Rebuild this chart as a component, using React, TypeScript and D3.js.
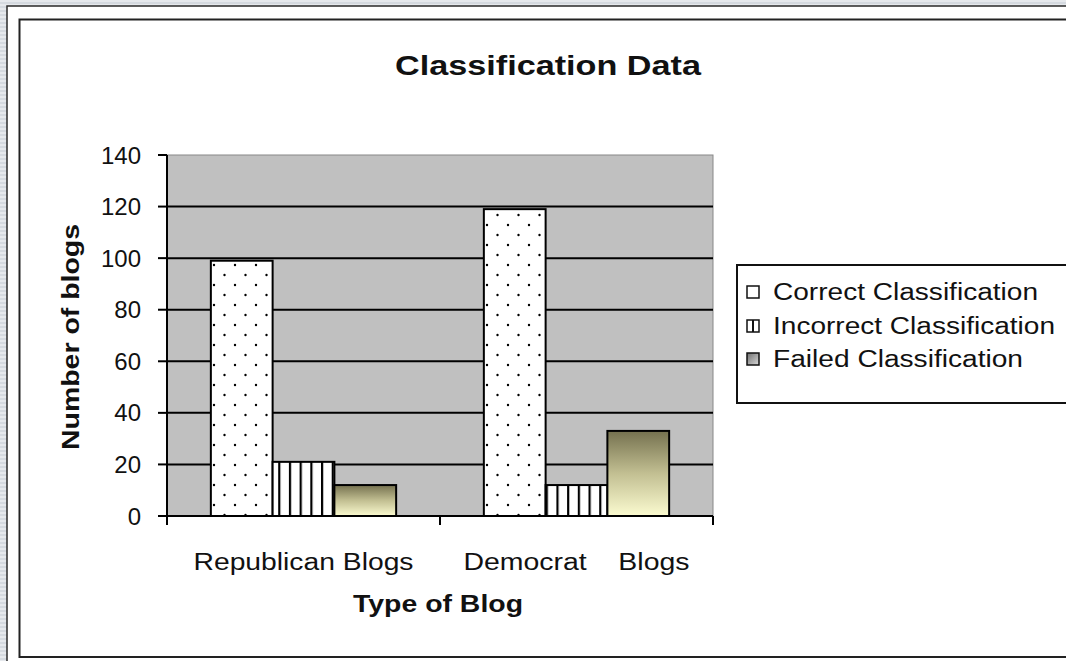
import React from "react";
import * as d3 from "d3";

const categories = ["Republican Blogs", "Democrat Blogs"];
const categoryLabels = ["Republican Blogs", "Democrat\u00a0\u00a0\u00a0\u00a0Blogs"];
const seriesNames = ["Correct Classification", "Incorrect Classification", "Failed Classification"];
const correctValues = [99, 119];
const incorrectValues = [21, 12];
const failedValues = [12, 33];
const yTicks = [0, 20, 40, 60, 80, 100, 120, 140];
const chartTitle = "Classification Data";
const xTitle = "Type of Blog";
const yTitle = "Number of blogs";

const W = 1066;
const H = 661;
const FONT = "'Liberation Sans', Arial, sans-serif";

export default function App() {
  const plotL = 167, plotR = 713, plotT = 155, plotB = 516;
  const values = [correctValues, incorrectValues, failedValues];
  const fills = ["url(#dots)", "url(#stripes)", "url(#grad)"];

  const x0 = d3.scaleBand<string>().domain(categories).range([plotL, plotR]).padding(0);
  const x1 = d3.scaleBand<string>().domain(seriesNames).range([0, x0.bandwidth()]).paddingInner(0).paddingOuter(0.71);
  const y = d3.scaleLinear().domain([0, 140]).range([plotB, plotT]);

  const xTickPositions = [plotL, ...categories.map((c) => (x0(c) as number) + x0.bandwidth())];

  const legendX = 737, legendY = 265, legendW = 330, legendH = 138;
  const legendRowY = [292, 326, 359];

  return (
    <svg width={W} height={H} style={{ position: "absolute", left: 0, top: 0, display: "block" }} xmlns="http://www.w3.org/2000/svg">
      <defs>
        <pattern id="bgstripes" patternUnits="userSpaceOnUse" width="8" height="4">
          <rect width="8" height="4" fill="#e6e9ed" />
          <rect y="2" width="8" height="2" fill="#d5dae0" />
        </pattern>
        <pattern id="dots" patternUnits="userSpaceOnUse" width="21" height="20">
          <rect width="21" height="20" fill="#ffffff" />
          <circle cx="4" cy="5" r="1.2" fill="#000" />
          <circle cx="14.5" cy="15" r="1.2" fill="#000" />
        </pattern>
        <pattern id="stripes" patternUnits="userSpaceOnUse" width="10.7" height="10">
          <rect width="10.7" height="10" fill="#ffffff" />
          <rect x="0" width="2.2" height="10" fill="#000" />
        </pattern>
        <linearGradient id="grad" x1="0" y1="0" x2="0" y2="1">
          <stop offset="0" stopColor="#75714f" />
          <stop offset="0.5" stopColor="#c2bf92" />
          <stop offset="1" stopColor="#fbfbd0" />
        </linearGradient>
        <linearGradient id="gradLeg" x1="0" y1="0" x2="1" y2="1">
          <stop offset="0" stopColor="#6f6f6f" />
          <stop offset="1" stopColor="#d8d8d8" />
        </linearGradient>
      </defs>

      {/* page background */}
      <rect x={0} y={0} width={W} height={H} fill="url(#bgstripes)" />
      {/* outer frame */}
      <rect x={7} y={6} width={W + 20} height={H + 20} fill="#ffffff" stroke="#2a2a2a" strokeWidth={1.5} />
      {/* inner frame */}
      <rect x={19.5} y={19.5} width={W + 20} height={637.5} fill="#ffffff" stroke="#222" strokeWidth={2} />

      {/* title */}
      <text x={548} y={75} textAnchor="middle" fontFamily={FONT} fontWeight="bold" fontSize={28}
        textLength={306} lengthAdjust="spacingAndGlyphs" fill="#111">{chartTitle}</text>

      {/* plot area */}
      <rect x={plotL} y={plotT} width={plotR - plotL} height={plotB - plotT} fill="#c0c0c0" stroke="#888" strokeWidth={1} />
      {yTicks.filter((t) => t > 0 && t < 140).map((t) => (
        <line key={t} x1={plotL} x2={plotR} y1={y(t)} y2={y(t)} stroke="#000" strokeWidth={2} />
      ))}

      {/* bars */}
      {categories.map((c, ci) => (
        <g key={c}>
          {seriesNames.map((s, si) => {
            const v = values[si][ci];
            const bx = (x0(c) as number) + (x1(s) as number);
            return (
              <rect key={s} x={bx} y={y(v)} width={x1.bandwidth()} height={y(0) - y(v)}
                fill={fills[si]} stroke="#000" strokeWidth={2} />
            );
          })}
        </g>
      ))}

      {/* axes */}
      <line x1={plotL} x2={plotL} y1={plotT} y2={plotB} stroke="#000" strokeWidth={2} />
      <line x1={plotL} x2={plotR} y1={plotB} y2={plotB} stroke="#000" strokeWidth={2} />
      {yTicks.map((t) => (
        <g key={t}>
          <line x1={plotL - 9} x2={plotL} y1={y(t)} y2={y(t)} stroke="#000" strokeWidth={2} />
          <text x={141} y={y(t)} dy="0.36em" textAnchor="end" fontFamily={FONT} fontSize={24} fill="#111">{t}</text>
        </g>
      ))}
      {xTickPositions.map((px, i) => (
        <line key={i} x1={px} x2={px} y1={plotB} y2={plotB + 9} stroke="#000" strokeWidth={2} />
      ))}
      {categories.map((c, i) => (
        <text key={c} x={(x0(c) as number) + x0.bandwidth() / 2} y={570} textAnchor="middle"
          fontFamily={FONT} fontSize={23} fill="#111" xmlSpace="preserve"
          textLength={i === 0 ? 220 : 226} lengthAdjust="spacingAndGlyphs">{categoryLabels[i]}</text>
      ))}

      {/* axis titles */}
      <text x={438} y={612} textAnchor="middle" fontFamily={FONT} fontWeight="bold" fontSize={23}
        textLength={170} lengthAdjust="spacingAndGlyphs" fill="#111">{xTitle}</text>
      <text transform={`translate(79, 337) rotate(-90)`} textAnchor="middle" fontFamily={FONT} fontWeight="bold"
        fontSize={23} textLength={226} lengthAdjust="spacingAndGlyphs" fill="#111">{yTitle}</text>

      {/* legend */}
      <rect x={legendX} y={legendY} width={legendW} height={legendH} fill="#ffffff" stroke="#111" strokeWidth={2} />
      {seriesNames.map((s, i) => (
        <g key={s}>
          <rect x={747} y={legendRowY[i] - 6} width={12} height={12}
            fill={i === 0 ? "#fff" : i === 1 ? "#fff" : "url(#gradLeg)"} stroke="#111" strokeWidth={1.5} />
          {i === 1 && <line x1={753} x2={753} y1={legendRowY[i] - 6} y2={legendRowY[i] + 6} stroke="#111" strokeWidth={2} />}
          <text x={773} y={legendRowY[i]} dy="0.36em" fontFamily={FONT} fontSize={23} fill="#111"
            textLength={i === 0 ? 265 : i === 1 ? 282 : 250} lengthAdjust="spacingAndGlyphs">{s}</text>
        </g>
      ))}
    </svg>
  );
}
